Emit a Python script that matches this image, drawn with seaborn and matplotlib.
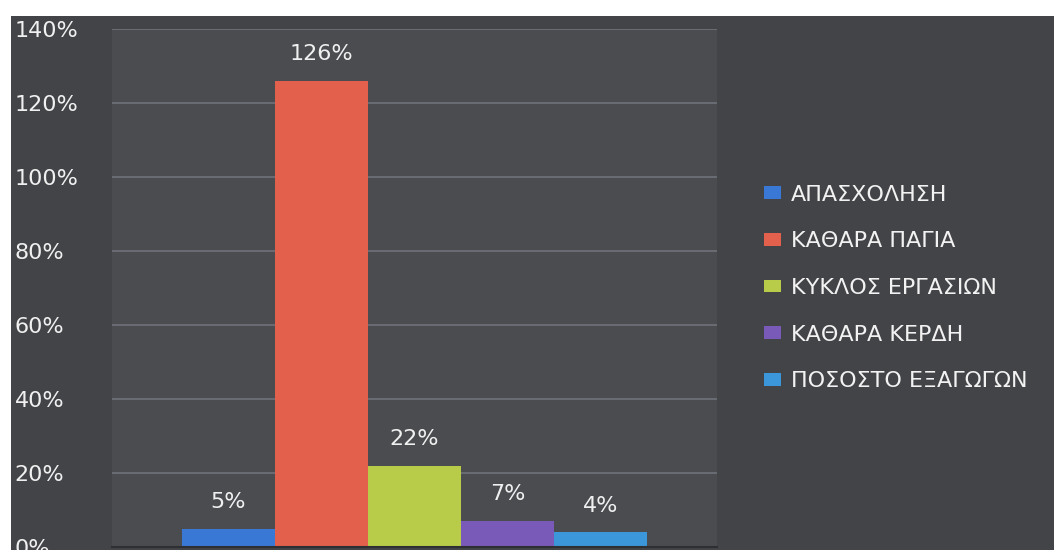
import pandas as pd
import matplotlib
matplotlib.use("Agg")
import matplotlib.pyplot as plt
import seaborn as sns
from matplotlib.patches import Rectangle
from matplotlib.ticker import PercentFormatter, MultipleLocator

# chart values
categories = ["ΑΠΑΣΧΟΛΗΣΗ", "ΚΑΘΑΡΑ ΠΑΓΙΑ", "ΚΥΚΛΟΣ ΕΡΓΑΣΙΩΝ", "ΚΑΘΑΡΑ ΚΕΡΔΗ", "ΠΟΣΟΣΤΟ ΕΞΑΓΩΓΩΝ"]
values = [0.05, 1.26, 0.22, 0.07, 0.04]
bar_colors = ["#3a78d6", "#e2604c", "#b9cc4a", "#7a5ab8", "#3b97da"]

df = pd.DataFrame({"group": [""] * len(categories), "category": categories, "value": values})

sns.set_theme(style="dark")
plt.rcParams["font.family"] = ["DejaVu Sans"]

W, H = 1054, 550
fig = plt.figure(figsize=(W / 100, H / 100), dpi=100, facecolor="white")

# dark slide background, drawn under the axes
fig.patches.append(Rectangle((11 / W, 0), 1, (H - 16) / H, transform=fig.transFigure,
                             facecolor="#434448", edgecolor="none", zorder=-10))

ax = fig.add_axes([112 / W, 3 / H, (717 - 112) / W, (547 - 29) / H])
ax.set_facecolor("#4a4c50")

sns.barplot(data=df, x="group", y="value", hue="category", hue_order=categories,
            palette=bar_colors, width=0.77, gap=0, saturation=1, ax=ax, legend=True,
            edgecolor="none")

ax.set_ylim(0, 1.4)
ax.yaxis.set_major_locator(MultipleLocator(0.2))
ax.yaxis.set_major_formatter(PercentFormatter(1.0, decimals=0))
ax.grid(axis="y", color="#6f7278", linewidth=1.2)
ax.set_axisbelow(True)
ax.set_xlabel("")
ax.set_ylabel("")
ax.set_xticks([])
for s in ax.spines.values():
    s.set_visible(False)
ax.spines["bottom"].set_visible(True)
ax.spines["bottom"].set_color("#2e2f32")
ax.spines["bottom"].set_linewidth(1.5)

ax.tick_params(axis="y", length=7, width=1.2, color="#6f7278", pad=63,
               labelsize=16, labelcolor="#f0f0f0")
for lbl in ax.get_yticklabels():
    lbl.set_horizontalalignment("left")

for cont in ax.containers:
    ax.bar_label(cont, labels=[f"{v * 100:.0f}%" for v in cont.datavalues],
                 padding=12, color="#f0f0f0", fontsize=16)

handles, labels = ax.get_legend_handles_labels()
ax.legend_.remove()
fig.legend(handles, labels, loc="center left", bbox_to_anchor=(755 / W, 1 - 288 / H),
           frameon=False, prop={"size": 16}, labelcolor="#f2f2f2",
           handlelength=0.75, handleheight=0.5, handletextpad=0.45, labelspacing=1.2,
           borderaxespad=0)

fig.savefig("out.png", dpi=100, facecolor=fig.get_facecolor())
